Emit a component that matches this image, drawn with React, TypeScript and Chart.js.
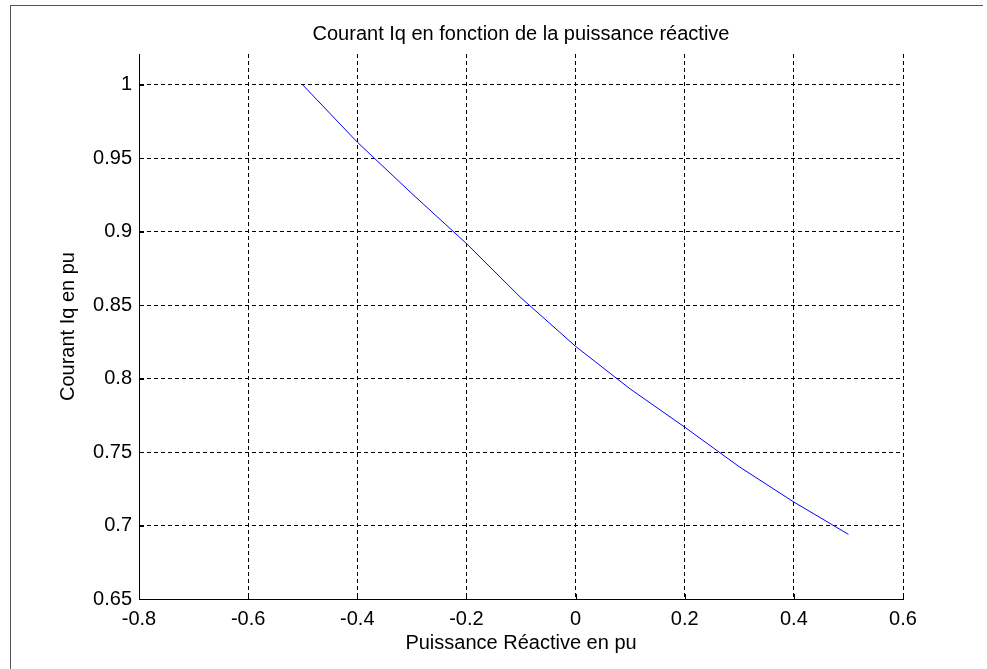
import React, { useEffect, useRef } from "react";
import { Chart, registerables } from "chart.js";

Chart.register(...registerables);

const titleText = "Courant Iq en fonction de la puissance réactive";
const xAxisTitle = "Puissance Réactive en pu";
const yAxisTitle = "Courant Iq en pu";

const reactivePower = [-0.5, -0.4, -0.3, -0.2, -0.1, 0.0, 0.1, 0.2, 0.3, 0.4, 0.5];
const currentIq = [1.0, 0.961, 0.926, 0.892, 0.855, 0.822, 0.793, 0.767, 0.74, 0.716, 0.694];

const xTicks = [-0.8, -0.6, -0.4, -0.2, 0, 0.2, 0.4, 0.6];
const xTickLabels = ["-0.8", "-0.6", "-0.4", "-0.2", "0", "0.2", "0.4", "0.6"];
const yTicks = [0.65, 0.7, 0.75, 0.8, 0.85, 0.9, 0.95, 1];
const yTickLabels = ["0.65", "0.7", "0.75", "0.8", "0.85", "0.9", "0.95", "1"];

const X_MIN = -0.8;
const X_MAX = 0.6;
const Y_MIN = 0.65;
const Y_MAX = 1.021;

const FONT = "'Liberation Sans', Arial, Helvetica, sans-serif";

const innerTicks = {
  id: "innerTicks",
  afterDraw(chart: any) {
    const ctx = chart.ctx;
    const xs = chart.scales.x;
    const ys = chart.scales.y;
    const area = chart.chartArea;
    const len = 5;
    ctx.save();
    ctx.strokeStyle = "#000";
    ctx.lineWidth = 1;
    ctx.setLineDash([]);
    ctx.beginPath();
    xTicks.forEach((v) => {
      const px = Math.round(xs.getPixelForValue(v)) + 0.5;
      ctx.moveTo(px, area.bottom);
      ctx.lineTo(px, area.bottom - len);
    });
    yTicks.forEach((v) => {
      const py = Math.round(ys.getPixelForValue(v)) + 0.5;
      ctx.moveTo(area.left, py);
      ctx.lineTo(area.left + len, py);
    });
    ctx.stroke();
    ctx.restore();
  },
};

export default function App() {
  const canvasRef = useRef<HTMLCanvasElement | null>(null);

  useEffect(() => {
    const canvas = canvasRef.current;
    if (!canvas) return;
    const points = reactivePower.map((x, i) => ({ x, y: currentIq[i] }));
    const chart = new Chart(canvas, {
      type: "scatter",
      data: {
        datasets: [
          {
            data: points,
            showLine: true,
            borderColor: "#0000ff",
            backgroundColor: "#0000ff",
            borderWidth: 1,
            pointRadius: 0,
            pointHoverRadius: 0,
            tension: 0,
          },
        ],
      },
      options: {
        responsive: false,
        animation: false,
        devicePixelRatio: 1,
        layout: { padding: { left: 0, top: 0, right: 84, bottom: 0 } },
        plugins: {
          legend: { display: false },
          tooltip: { enabled: false },
          title: { display: false },
        },
        scales: {
          x: {
            type: "linear",
            min: X_MIN,
            max: X_MAX,
            afterFit(scale: any) {
              scale.height = 70;
            },
            afterBuildTicks(scale: any) {
              scale.ticks = xTicks.map((v) => ({ value: v }));
            },
            ticks: {
              color: "#000",
              font: { family: FONT, size: 20, lineHeight: 1.2 },
              padding: 8,
              maxRotation: 0,
              autoSkip: false,
              callback: (_v: any, i: number) => xTickLabels[i],
            },
            grid: {
              color: "#000",
              lineWidth: 1,
              drawTicks: false,
            },
            border: { display: true, color: "#000", width: 1, dash: [4, 3] },
            title: {
              display: true,
              text: xAxisTitle,
              color: "#000",
              font: { family: FONT, size: 20, lineHeight: 1.2 },
              padding: { top: 0, bottom: 14 },
            },
          },
          xTop: {
            type: "linear",
            position: "top",
            min: X_MIN,
            max: X_MAX,
            afterFit(scale: any) {
              scale.height = 54;
            },
            ticks: { display: false },
            grid: { display: false, drawTicks: false },
            border: { display: false },
            title: {
              display: true,
              text: titleText,
              color: "#000",
              font: { family: FONT, size: 20, lineHeight: 1.2 },
              padding: { top: 22, bottom: 0 },
            },
          },
          y: {
            type: "linear",
            min: Y_MIN,
            max: Y_MAX,
            afterFit(scale: any) {
              scale.width = 139;
            },
            afterBuildTicks(scale: any) {
              scale.ticks = yTicks.map((v) => ({ value: v }));
            },
            ticks: {
              color: "#000",
              font: { family: FONT, size: 20, lineHeight: 1.2 },
              padding: 7,
              autoSkip: false,
              callback: (_v: any, i: number) => yTickLabels[i],
            },
            grid: {
              color: "#000",
              lineWidth: 1,
              drawTicks: false,
            },
            border: { display: true, color: "#000", width: 1, dash: [4, 3] },
            title: {
              display: true,
              text: yAxisTitle,
              color: "#000",
              font: { family: FONT, size: 20, lineHeight: 1.2 },
              padding: { top: 56, bottom: 0 },
            },
          },
        },
      },
      plugins: [innerTicks],
    } as any);
    return () => chart.destroy();
  }, []);

  return (
    <div style={{ position: "fixed", left: 0, top: 0, width: 987, height: 669, background: "#fff", overflow: "hidden" }}>
      <div
        style={{
          position: "absolute",
          left: 10,
          top: 5,
          width: 973,
          height: 700,
          borderTop: "1px solid #555",
          borderLeft: "1px solid #555",
          boxSizing: "border-box",
        }}
      />
      <canvas ref={canvasRef} width={987} height={669} style={{ position: "absolute", left: 0, top: 0, display: "block" }} />
    </div>
  );
}
